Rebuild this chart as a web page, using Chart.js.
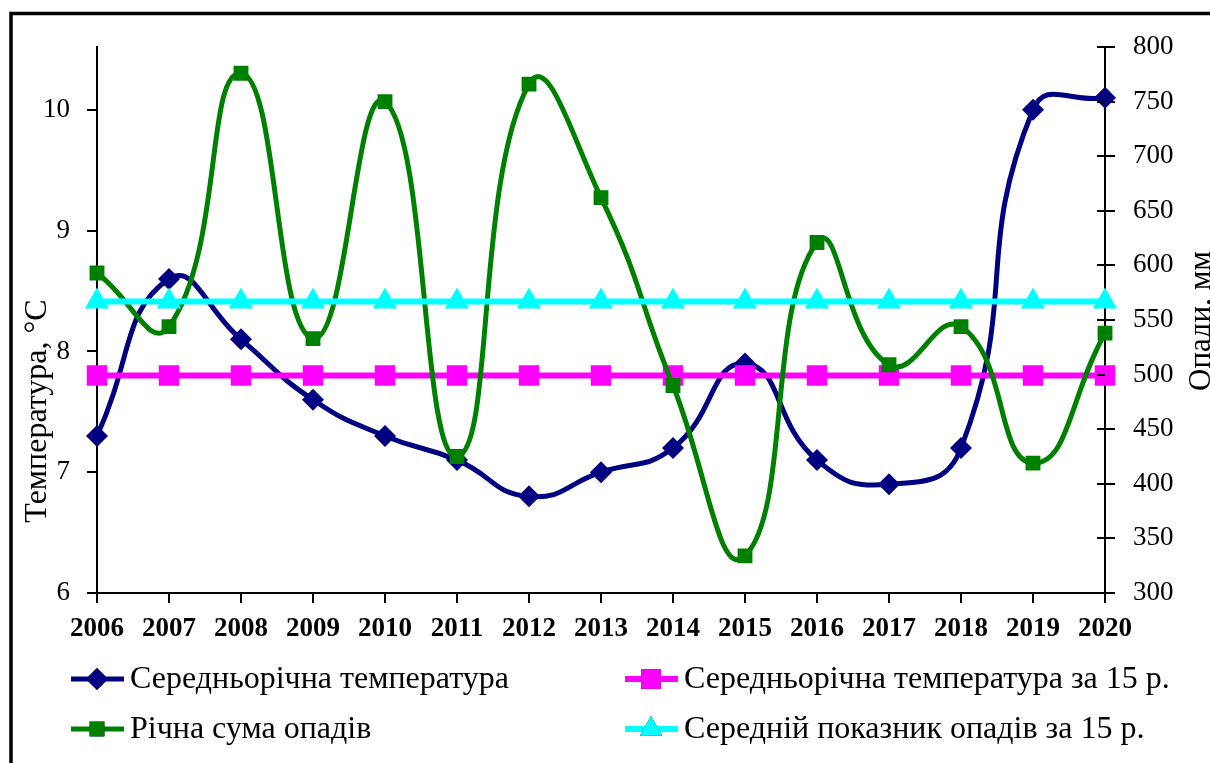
<!DOCTYPE html>
<html>
<head>
<meta charset="utf-8">
<script src="https://cdn.jsdelivr.net/npm/chart.js@4.4.1/dist/chart.umd.min.js"></script>
<style>
html,body{margin:0;padding:0;background:#fff;}
canvas{display:block;}
</style>
</head>
<body>
<canvas id="c" width="1210" height="763"></canvas>
<script>
const years = ['2006','2007','2008','2009','2010','2011','2012','2013','2014','2015','2016','2017','2018','2019','2020'];
const tempAnnual = [7.3, 8.6, 8.1, 7.6, 7.3, 7.1, 6.8, 7.0, 7.2, 7.9, 7.1, 6.9, 7.2, 10.0, 10.1];
const tempMean15 = [7.8, 7.8, 7.8, 7.8, 7.8, 7.8, 7.8, 7.8, 7.8, 7.8, 7.8, 7.8, 7.8, 7.8, 7.8];
const precipAnnual = [593, 544, 776, 533, 750, 425, 766, 662, 490, 334, 621, 509, 544, 419, 538];
const precipMean15 = [567, 567, 567, 567, 567, 567, 567, 567, 567, 567, 567, 567, 567, 567, 567];
const tempTicks = [6, 7, 8, 9, 10];
const precipTicks = [300, 350, 400, 450, 500, 550, 600, 650, 700, 750, 800];

const labelsText = [
  'Середньорічна температура',
  'Середньорічна температура за 15 р.',
  'Річна сума опадів',
  'Середній показник опадів за 15 р.'
];

const SERIF = '"Liberation Serif", "Times New Roman", serif';

const decorPlugin = {
  id: 'decor',
  afterDraw(chart) {
    const ctx = chart.ctx;
    ctx.save();
    // frame
    ctx.strokeStyle = '#000';
    ctx.lineWidth = 3.5;
    ctx.strokeRect(11, 13.5, 1220, 780);
    // inner ticks on right axis
    const y1 = chart.scales.y1;
    ctx.lineWidth = 2;
    ctx.beginPath();
    precipTicks.forEach(v => {
      const py = Math.round(y1.getPixelForValue(v));
      ctx.moveTo(y1.left - 8, py);
      ctx.lineTo(y1.left, py);
    });
    ctx.stroke();
    // axis titles
    ctx.fillStyle = '#000';
    ctx.font = '32px ' + SERIF;
    ctx.textAlign = 'center';
    ctx.textBaseline = 'alphabetic';
    ctx.save();
    ctx.translate(46, 411);
    ctx.rotate(-Math.PI / 2);
    ctx.fillText('Температура, °С', 0, 0);
    ctx.restore();
    ctx.font = '31px ' + SERIF;
    ctx.save();
    ctx.translate(1210, 321);
    ctx.rotate(-Math.PI / 2);
    ctx.fillText('Опади, мм', 0, 0);
    ctx.restore();
    // legend
    const colX = [71, 625];
    const rowY = [679, 729];
    chart.data.datasets.forEach((ds, i) => {
      const cx = colX[i % 2];
      const cy = rowY[Math.floor(i / 2)];
      ctx.strokeStyle = ds.borderColor;
      ctx.lineWidth = ds.borderWidth;
      ctx.beginPath();
      ctx.moveTo(cx, cy);
      ctx.lineTo(cx + 53, cy);
      ctx.stroke();
      Chart.helpers.drawPoint(ctx, {
        pointStyle: ds.pointStyle,
        radius: ds.legendRadius,
        rotation: 0,
        borderWidth: 0
      }, cx + 26, cy);
      ctx.fillStyle = ds.pointBackgroundColor;
      ctx.fill();
      ctx.fillStyle = '#000';
      ctx.font = '32px ' + SERIF;
      ctx.textAlign = 'left';
      ctx.textBaseline = 'middle';
      ctx.fillText(ds.label, cx + 59, cy + 1);
    });
    ctx.restore();
  }
};

const mk = (label, data, color, axis, style, radius, legendRadius, width, order) => ({
  label, data, yAxisID: axis,
  borderColor: color, backgroundColor: color,
  pointBackgroundColor: color, pointBorderColor: color, pointBorderWidth: 0,
  pointStyle: style, pointRadius: radius, pointHoverRadius: radius,
  legendRadius,
  borderWidth: width, tension: 0.5, fill: false, order
});

new Chart(document.getElementById('c'), {
  type: 'line',
  data: {
    labels: years,
    datasets: [
      mk(labelsText[0], tempAnnual, '#000080', 'y', 'rectRot', 11, 11, 5, 4),
      mk(labelsText[1], tempMean15, '#FF00FF', 'y', 'rect', 14.5, 14, 6, 3),
      mk(labelsText[2], precipAnnual, '#008000', 'y1', 'rect', 10.5, 10.5, 5, 2),
      mk(labelsText[3], precipMean15, '#00FFFF', 'y1', 'triangle', 14, 13, 6, 1)
    ]
  },
  options: {
    responsive: false,
    animation: false,
    events: [],
    layout: { padding: { top: 47, left: 0, right: 0, bottom: 0 } },
    plugins: { legend: { display: false }, tooltip: { enabled: false } },
    scales: {
      x: {
        offset: false,
        afterFit(s) { s.height = 170; },
        grid: { drawOnChartArea: false, drawTicks: true, tickLength: 10, color: '#000', lineWidth: 2 },
        border: { display: true, color: '#000', width: 2 },
        ticks: { color: '#000', font: { family: SERIF, size: 27, weight: 'bold' }, padding: 10, maxRotation: 0, autoSkip: false }
      },
      y: {
        position: 'left',
        min: 6, max: 10.52,
        afterFit(s) { s.width = 97; },
        afterBuildTicks(s) { s.ticks = tempTicks.map(v => ({ value: v })); },
        grid: { drawOnChartArea: false, drawTicks: true, tickLength: 10, color: '#000', lineWidth: 2 },
        border: { display: true, color: '#000', width: 2 },
        ticks: { color: '#000', font: { family: SERIF, size: 27 }, padding: 17 }
      },
      y1: {
        position: 'right',
        min: 300, max: 800,
        afterFit(s) { s.width = 105; },
        afterBuildTicks(s) { s.ticks = precipTicks.map(v => ({ value: v })); },
        grid: { drawOnChartArea: false, drawTicks: true, tickLength: 10, color: '#000', lineWidth: 2 },
        border: { display: true, color: '#000', width: 2 },
        ticks: { color: '#000', font: { family: SERIF, size: 27 }, padding: 18 }
      }
    }
  },
  plugins: [decorPlugin]
});
</script>
</body>
</html>
